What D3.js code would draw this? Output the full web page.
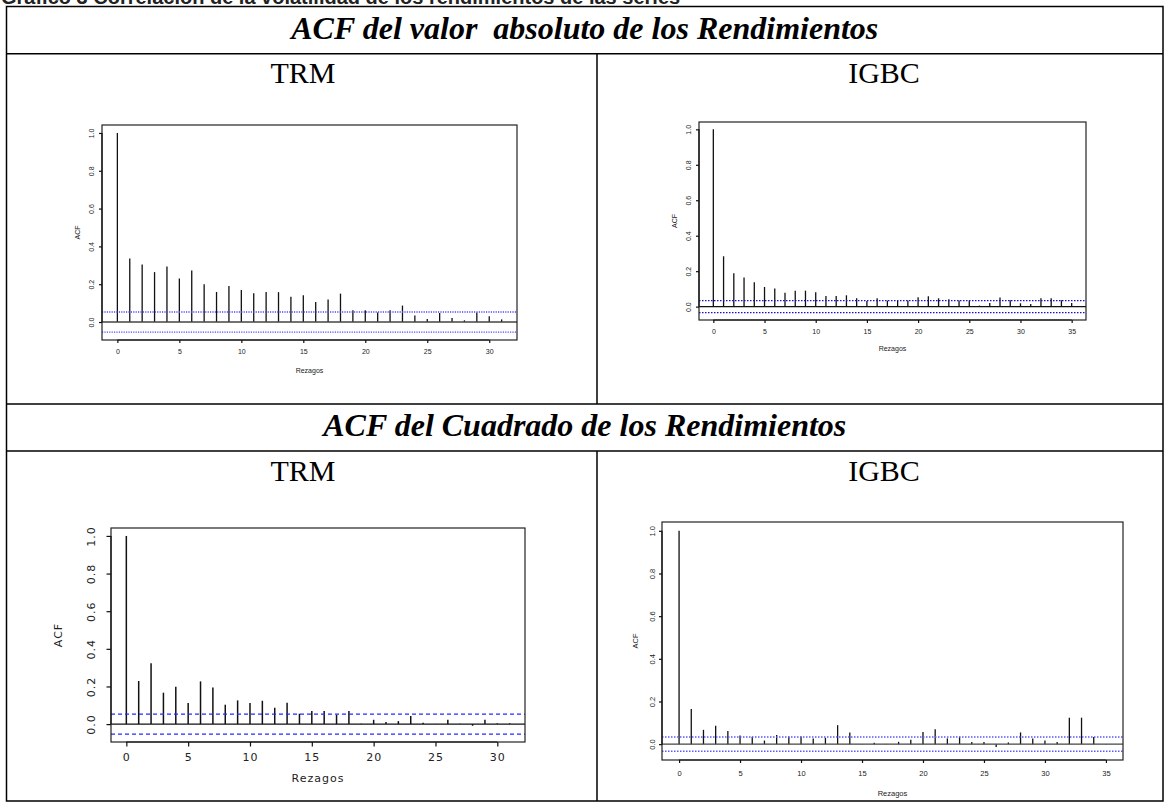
<!DOCTYPE html>
<html>
<head>
<meta charset="utf-8">
<script src="https://cdn.jsdelivr.net/npm/d3@7"></script>
<style>
  body { margin: 0; background: #fff; }
  svg { display: block; }
</style>
</head>
<body>
<svg id="chart" width="1167" height="803"></svg>
<script>
// ACF values (lag 0 first)
var acfTrmAbs = [1.0, 0.336, 0.304, 0.264, 0.294, 0.230, 0.273, 0.200, 0.159, 0.191,
  0.170, 0.152, 0.159, 0.158, 0.133, 0.142, 0.106, 0.119, 0.150, 0.062,
  0.062, 0.050, 0.062, 0.087, 0.035, 0.016, 0.048, 0.021, 0.009, 0.050,
  0.030, 0.014];
var acfIgbcAbs = [1.0, 0.284, 0.188, 0.165, 0.137, 0.111, 0.103, 0.079, 0.090, 0.090,
  0.081, 0.060, 0.060, 0.064, 0.047, 0.032, 0.047, 0.034, 0.032, 0.034,
  0.053, 0.058, 0.047, 0.041, 0.034, 0.034, 0.006, 0.021, 0.051, 0.036,
  0.019, 0.015, 0.047, 0.047, 0.036, 0.021];
var acfTrmSq = [1.0, 0.229, 0.323, 0.167, 0.199, 0.112, 0.227, 0.194, 0.103, 0.126,
  0.112, 0.124, 0.087, 0.114, 0.055, 0.069, 0.069, 0.050, 0.069, 0.002,
  0.023, 0.011, 0.016, 0.043, 0.007, 0.001, 0.023, 0.002, -0.009, 0.023,
  0.004, 0.004];
var acfIgbcSq = [1.0, 0.165, 0.067, 0.086, 0.062, 0.041, 0.035, 0.017, 0.043, 0.036,
  0.036, 0.027, 0.030, 0.089, 0.055, 0.001, 0.006, 0.001, 0.011, 0.021,
  0.057, 0.070, 0.027, 0.035, 0.010, 0.010, -0.013, 0.008, 0.055, 0.027,
  0.017, 0.010, 0.124, 0.124, 0.033, -0.002];

// confidence bands (+/-)
var ciTrmAbs = 0.053, ciIgbcAbs = 0.034, ciTrmSq = 0.053, ciIgbcSq = 0.033;

var yTicks = [0, 0.2, 0.4, 0.6, 0.8, 1.0];
var xTicksTrm = [0, 5, 10, 15, 20, 25, 30];
var xTicksIgbc = [0, 5, 10, 15, 20, 25, 30, 35];

var caption = 'Gráfico 3 Correlación de la volatilidad de los rendimientos de las series';
var rowTitles = ['ACF del valor  absoluto de los Rendimientos', 'ACF del Cuadrado de los Rendimientos'];
var seriesNames = ['TRM', 'IGBC'];
var xLabel = 'Rezagos', yLabel = 'ACF';

var svg = d3.select('#chart');

// Draw the Word-style table holding the four plots
var drawTable = function () {
  let L = 6.5, R = 1163, T = 6.5, B = 801, mid = 597;
  let rows = [53.7, 404, 451];
  let g = svg.append('g').attr('stroke', '#000').attr('stroke-width', 1.5).attr('fill', 'none');
  g.append('rect').attr('x', L).attr('y', T).attr('width', R - L).attr('height', B - T);
  rows.forEach(y => g.append('line').attr('x1', L).attr('x2', R).attr('y1', y).attr('y2', y));
  g.append('line').attr('x1', mid).attr('x2', mid).attr('y1', rows[0]).attr('y2', rows[1]);
  g.append('line').attr('x1', mid).attr('x2', mid).attr('y1', rows[2]).attr('y2', B);

  // caption above the table (cut off at the top edge, as in the page)
  svg.append('text').attr('x', 1).attr('y', 4)
    .style('font', 'bold 20px "Liberation Sans", Arial, sans-serif')
    .attr('fill', '#222')
    .text(caption);

  let serif = '"Liberation Serif", "Times New Roman", serif';
  [39, 436].forEach((y, i) => {
    svg.append('text').attr('x', (L + R) / 2).attr('y', y)
      .attr('text-anchor', 'middle')
      .style('white-space', 'pre')
      .style('font-family', serif).style('font-size', '32px')
      .style('font-weight', 'bold').style('font-style', 'italic')
      .text(rowTitles[i]);
  });
  [83, 481].forEach(y => {
    svg.append('text').attr('x', 303).attr('y', y).attr('text-anchor', 'middle')
      .style('font-family', serif).style('font-size', '30px').text(seriesNames[0]);
    svg.append('text').attr('x', 884).attr('y', y).attr('text-anchor', 'middle')
      .style('font-family', serif).style('font-size', '30px').text(seriesNames[1]);
  });
};

// One R-style acf() plot
var drawAcf = function (values, ci, xTicks, opt) {
  let n = values.length - 1;
  let yLo = -ci, yHi = 1;
  let x = d3.scaleLinear()
    .domain([-0.04 * n, n * 1.04])
    .range([opt.x0, opt.x1]);
  let y = d3.scaleLinear()
    .domain([yLo - 0.04 * (yHi - yLo), yHi + 0.04 * (yHi - yLo)])
    .range([opt.y1, opt.y0]);

  let g = svg.append('g');
  let font = opt.font;

  // sticks
  g.selectAll('line.stick').data(values).join('line')
    .attr('class', 'stick')
    .attr('x1', (d, i) => x(i)).attr('x2', (d, i) => x(i))
    .attr('y1', y(0)).attr('y2', d => y(d))
    .attr('stroke', '#111').attr('stroke-width', opt.stickW);

  // zero line
  g.append('line').attr('x1', opt.x0).attr('x2', opt.x1)
    .attr('y1', y(0)).attr('y2', y(0))
    .attr('stroke', opt.zeroColor).attr('stroke-width', 1.4);

  // confidence bands
  [ci, -ci].forEach(c => {
    g.append('line').attr('x1', opt.x0).attr('x2', opt.x1)
      .attr('y1', y(c)).attr('y2', y(c))
      .attr('stroke', opt.ciColor).attr('stroke-width', opt.ciW)
      .attr('stroke-dasharray', opt.dash);
  });

  // box
  g.append('rect').attr('x', opt.x0).attr('y', opt.y0)
    .attr('width', opt.x1 - opt.x0).attr('height', opt.y1 - opt.y0)
    .attr('fill', 'none').attr('stroke', '#222').attr('stroke-width', 1.2);

  // x axis
  let xAxis = g.append('g').attr('transform', `translate(0,${opt.y1})`)
    .call(d3.axisBottom(x).tickValues(xTicks).tickSize(opt.tick).tickPadding(opt.xPad).tickSizeOuter(0));
  xAxis.select('.domain').remove();
  xAxis.append('line').attr('x1', x(xTicks[0])).attr('x2', x(xTicks[xTicks.length - 1]))
    .attr('stroke', '#111').attr('stroke-width', 1.2);
  xAxis.selectAll('line').attr('stroke', '#111').attr('stroke-width', 1.2);
  xAxis.selectAll('text').style('font', font).attr('fill', '#222')
    .style('letter-spacing', opt.spacing);

  // y axis, labels rotated like R's default las=0
  let yAxis = g.append('g').attr('transform', `translate(${opt.x0},0)`)
    .call(d3.axisLeft(y).tickValues(yTicks).tickSize(opt.tick).tickFormat(d3.format('.1f')).tickSizeOuter(0));
  yAxis.select('.domain').remove();
  yAxis.append('line').attr('y1', y(0)).attr('y2', y(1))
    .attr('stroke', '#111').attr('stroke-width', 1.2);
  yAxis.selectAll('line').attr('stroke', '#111').attr('stroke-width', 1.2);
  yAxis.selectAll('text')
    .attr('x', 0).attr('dy', '0.35em')
    .attr('text-anchor', 'middle')
    .attr('transform', `translate(${-opt.yLabGap},0) rotate(-90)`)
    .style('font', font).attr('fill', '#222')
    .style('letter-spacing', opt.spacing);

  // axis titles
  g.append('text').attr('x', (opt.x0 + opt.x1) / 2).attr('y', opt.xTitleY)
    .attr('text-anchor', 'middle').style('font', font).attr('fill', '#222')
    .style('letter-spacing', opt.spacing)
    .text(xLabel);
  g.append('text')
    .attr('transform', `translate(${opt.x0 - opt.yTitleGap},${(opt.y0 + opt.y1) / 2}) rotate(-90)`)
    .attr('dy', '0.35em').attr('text-anchor', 'middle')
    .style('font', font).attr('fill', '#222')
    .style('letter-spacing', opt.spacing)
    .text(yLabel);
};

document.addEventListener('DOMContentLoaded', function () {
  drawTable();

  let small = '7px "Liberation Sans", Arial, sans-serif';

  drawAcf(acfTrmAbs, ciTrmAbs, xTicksTrm, {
    x0: 102, x1: 517, y0: 125, y1: 340,
    font: small, spacing: '0px', tick: 3, xPad: 6, yLabGap: 10, yTitleGap: 24, xTitleY: 373,
    stickW: 1.3, zeroColor: '#444', ciColor: '#4a4aff', ciW: 1.3, dash: '1.2,1.2'
  });
  drawAcf(acfIgbcAbs, ciIgbcAbs, xTicksIgbc, {
    x0: 699, x1: 1086, y0: 122, y1: 320,
    font: small, spacing: '0px', tick: 3, xPad: 6, yLabGap: 10, yTitleGap: 24, xTitleY: 351,
    stickW: 1.3, zeroColor: '#111', ciColor: '#1010d0', ciW: 1.2, dash: '1.5,1.5'
  });
  drawAcf(acfTrmSq, ciTrmSq, xTicksTrm, {
    x0: 111, x1: 525, y0: 528, y1: 742,
    font: '11px "DejaVu Sans", sans-serif', spacing: '1px', tick: 4.5, xPad: 7, yLabGap: 20, yTitleGap: 53, xTitleY: 782,
    stickW: 1.5, zeroColor: '#111', ciColor: '#2828ff', ciW: 1.2, dash: '4,3'
  });
  drawAcf(acfIgbcSq, ciIgbcSq, xTicksIgbc, {
    x0: 662, x1: 1123, y0: 522, y1: 760,
    font: '7.5px "Liberation Sans", Arial, sans-serif', spacing: '0px', tick: 3, xPad: 8, yLabGap: 10, yTitleGap: 27, xTitleY: 796,
    stickW: 1.3, zeroColor: '#444', ciColor: '#5a5aff', ciW: 1.5, dash: '1.5,1.5'
  });
}, false);
</script>
</body>
</html>
